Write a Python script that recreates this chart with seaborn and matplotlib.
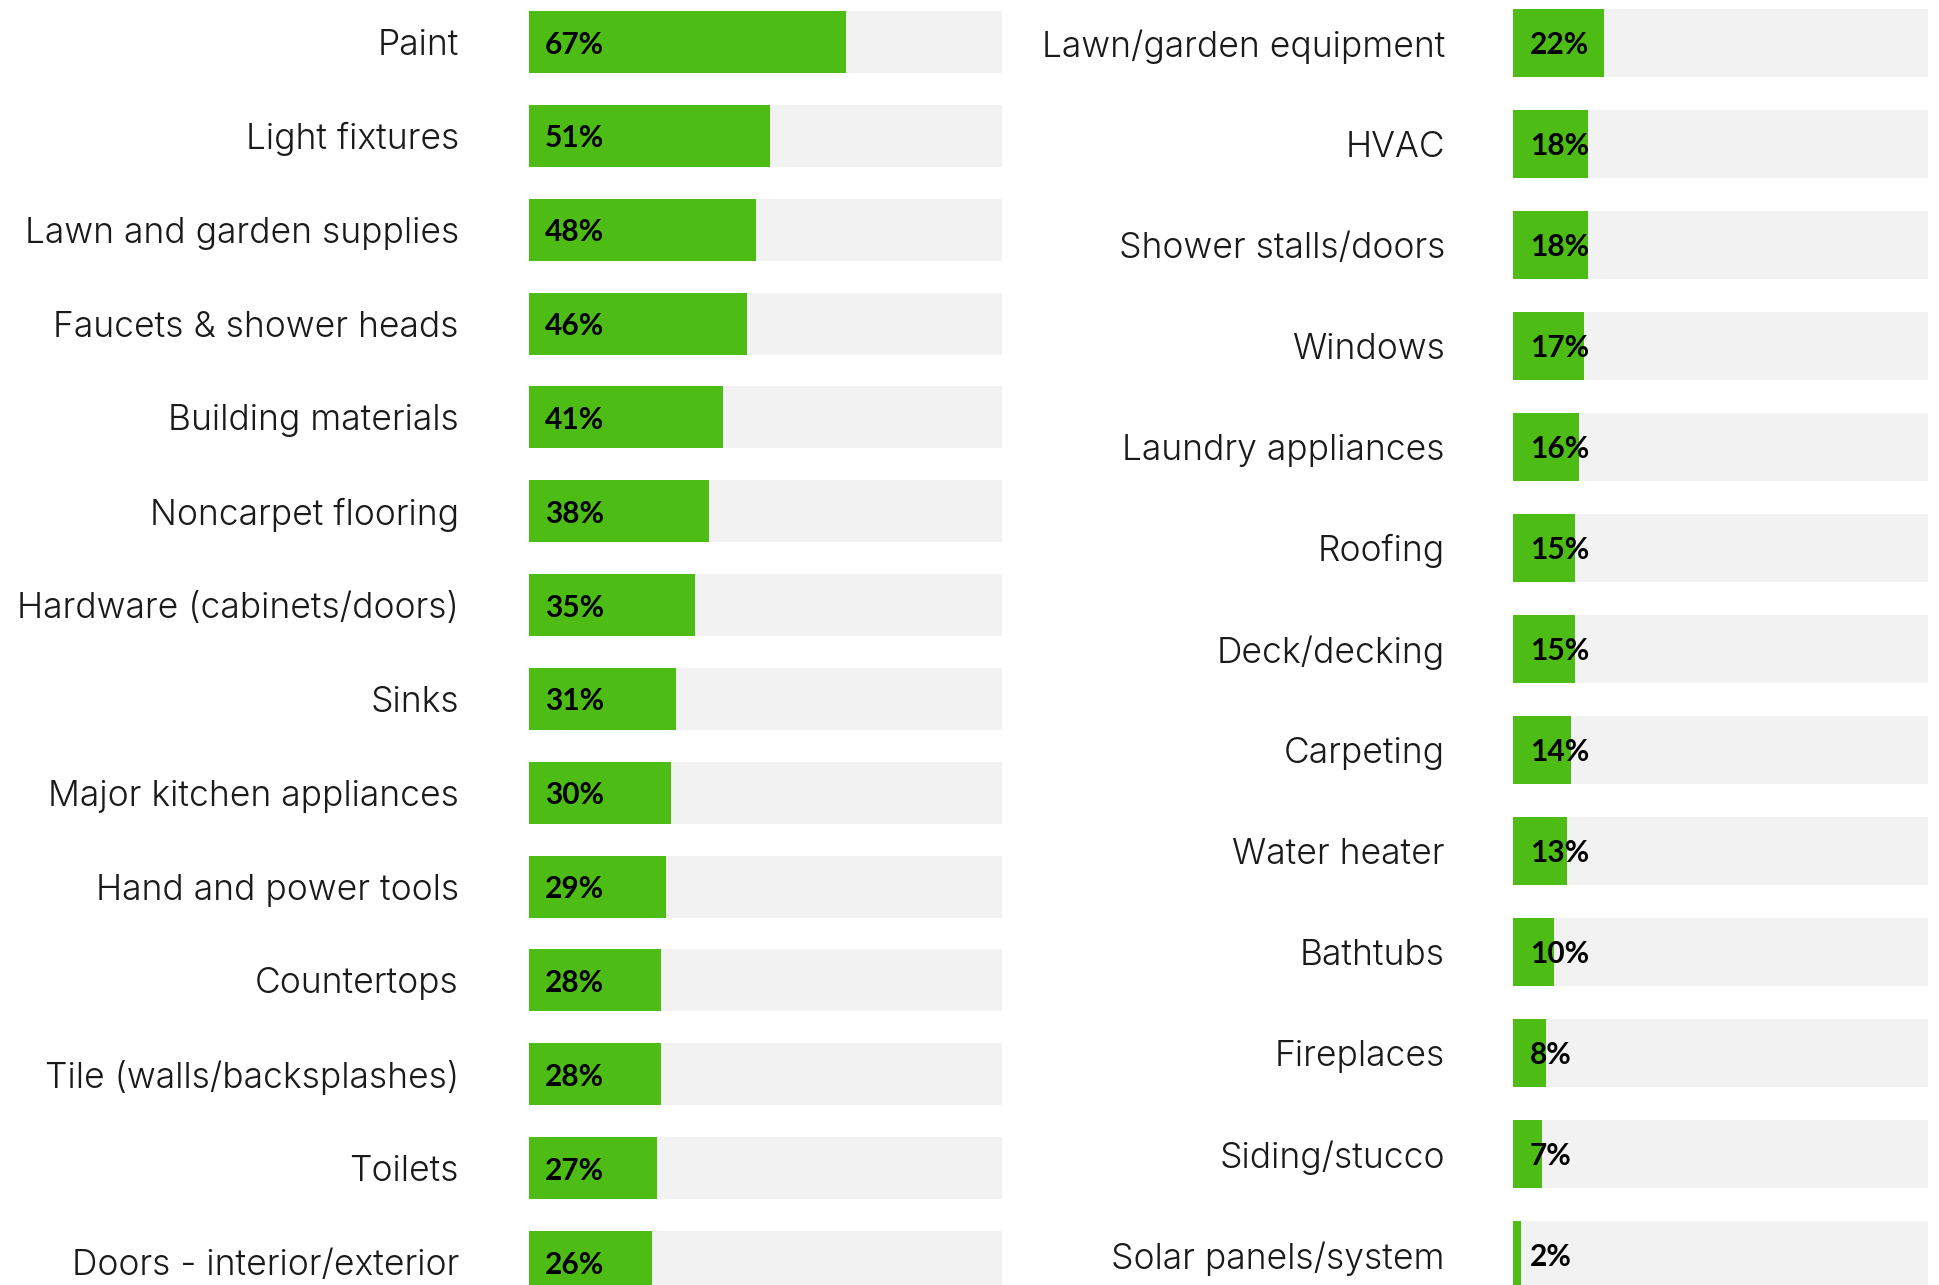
import matplotlib
matplotlib.use("Agg")
import matplotlib.pyplot as plt
import seaborn as sns
import pandas as pd

left_categories = ["Paint", "Light fixtures", "Lawn and garden supplies", "Faucets & shower heads",
                   "Building materials", "Noncarpet flooring", "Hardware (cabinets/doors)", "Sinks",
                   "Major kitchen appliances", "Hand and power tools", "Countertops",
                   "Tile (walls/backsplashes)", "Toilets", "Doors - interior/exterior"]
left_values = [67, 51, 48, 46, 41, 38, 35, 31, 30, 29, 28, 28, 27, 26]

right_categories = ["Lawn/garden equipment", "HVAC", "Shower stalls/doors", "Windows",
                    "Laundry appliances", "Roofing", "Deck/decking", "Carpeting", "Water heater",
                    "Bathtubs", "Fireplaces", "Siding/stucco", "Solar panels/system"]
right_values = [22, 18, 18, 17, 16, 15, 15, 14, 13, 10, 8, 7, 2]

full_scale = 100

GREEN = "#4DBD16"
GREY = "#F2F2F2"

sns.set_style("white")
plt.rcParams["font.family"] = ["Inter", "DejaVu Sans"]

W, H = 1940, 1285
fig = plt.figure(figsize=(W / 100, H / 100), dpi=100)


def panel(x0, width, cats, vals, pitch, center0, bar_h, label_pad, val_off):
    ax = fig.add_axes([x0 / W, 0, width / W, 1])
    df = pd.DataFrame({"cat": cats, "val": vals, "full": [full_scale] * len(cats)})
    sns.barplot(data=df, x="full", y="cat", ax=ax, color=GREY, width=bar_h / pitch,
                linewidth=0, saturation=1)
    sns.barplot(data=df, x="val", y="cat", ax=ax, color=GREEN, width=bar_h / pitch,
                linewidth=0, saturation=1)
    top = -center0 / pitch
    ax.set_ylim(top + H / pitch, top)
    ax.set_xlim(0, full_scale)
    ax.set_xlabel("")
    ax.set_ylabel("")
    ax.set_xticks([])
    ax.tick_params(axis="y", length=0, pad=label_pad / 100 * 72)
    for lab in ax.get_yticklabels():
        lab.set_fontsize(25.5)
        lab.set_fontweight(300)
        lab.set_color("#1a1a1a")
    for i, v in enumerate(vals):
        ax.annotate(f"{v}%", xy=(0, i), xytext=(val_off / 100 * 72, 0),
                    textcoords="offset points", va="center_baseline", ha="left",
                    fontsize=21.5, fontweight="bold", color="#000000",
                    family=["Lato", "DejaVu Sans"])
    for s in ax.spines.values():
        s.set_visible(False)
    ax.patch.set_alpha(0)
    return ax


panel(529, 473, left_categories, left_values, 93.85, 42.0, 62, 70, 16)
panel(1513, 415, right_categories, right_values, 101.0, 42.8, 67.7, 68, 17)

fig.savefig("out.png", dpi=100, facecolor="white")
